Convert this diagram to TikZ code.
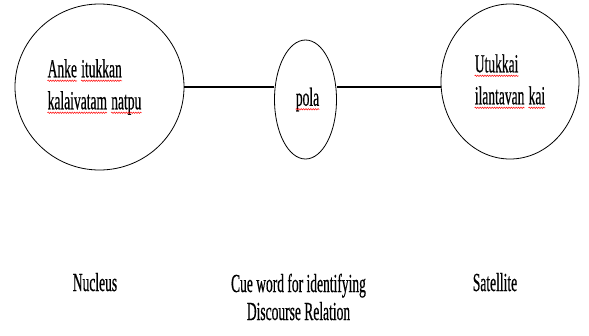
\documentclass[tikz,border=0pt]{standalone}
\usepackage{fontspec}
\setmainfont{Liberation Serif}[FakeStretch=0.52, FakeBold=0.5]
\usepackage{xcolor}
\usepackage{tikz}
\usetikzlibrary{shapes.geometric, decorations.pathmorphing}
% mot souligne en rouge (correcteur)
\newcommand{\spell}[1]{\tikz[baseline=(w.base), x=1pt, y=1pt]{%
    \node[rectangle, draw=none, inner sep=0pt, minimum width=0pt, minimum height=0pt] (w) {#1};
    \draw[red, line width=0.5pt, decorate,
        decoration={snake, amplitude=0.7pt, segment length=2.4pt}]
        ([yshift=-3.5pt]w.base west) -- ([yshift=-3.5pt]w.base east);}}

\begin{document}
\begin{tikzpicture}[x=1pt, y=-1pt,
    bubble/.style={draw, ellipse, line width=0.8pt, inner sep=0pt},
    words/.style={inner sep=0pt, align=left, font=\fontsize{26}{32}\selectfont},
    link/.style={line width=1.3pt},
    caption/.style={anchor=base, align=center, inner sep=0pt,
        font=\fontsize{26}{28}\selectfont}]
    \useasboundingbox (0,0) rectangle (589,335);

    % Les trois bulles
    \node[bubble, minimum width=169pt, minimum height=166pt] (nucleus) at (99.5,87) {};
    \node[bubble, minimum width=62pt, minimum height=119pt] (cue) at (305.5,99.5) {};
    \node[bubble, minimum width=138pt, minimum height=155pt] (satellite) at (510,81.5) {};

    % Les textes des bulles
    \node[words] (nuctext) at (94.5,87) {\spell{Anke} \spell{itukkan}\\ \spell{kalaivatam} \spell{natpu}};
    \node[words] (cuetext) at (307.5,99.5) {\spell{pola}};
    \node[words] (sattext) at (510,81.5) {\spell{Utukkai}\\ \spell{ilantavan} \spell{kai}};

    % Les liaisons
    \draw[link] (nucleus) -- (nucleus -| cue.west);
    \draw[link] (nucleus -| cue.east) -- (nucleus -| satellite.west);

    % Les legendes (base = derniere ligne)
    \node[caption] (nuclab) at (95,291) {Nucleus};
    \node[caption] (cuelab) at (298.5,320) {Cue word for identifying\\ Discourse Relation};
    \node[caption] (satlab) at (495,291) {Satellite};
\end{tikzpicture}
\end{document}
